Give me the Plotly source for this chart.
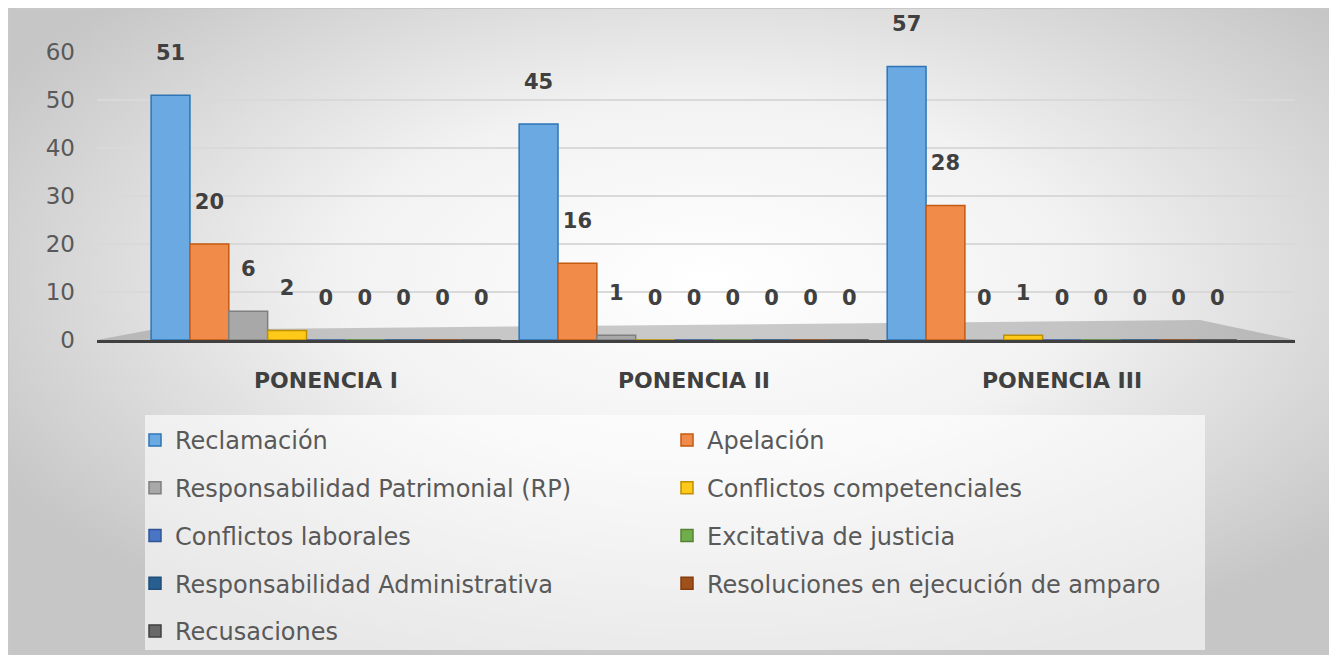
import base64
import plotly.graph_objects as go

categories = ["PONENCIA I", "PONENCIA II", "PONENCIA III"]
series_names = [
    "Reclamación",
    "Apelación",
    "Responsabilidad Patrimonial (RP)",
    "Conflictos competenciales",
    "Conflictos laborales",
    "Excitativa de justicia",
    "Responsabilidad Administrativa",
    "Resoluciones en ejecución de amparo",
    "Recusaciones",
]
reclamacion = [51, 45, 57]
apelacion = [20, 16, 28]
resp_patrimonial = [6, 1, 0]
conf_competenciales = [2, 0, 1]
conf_laborales = [0, 0, 0]
excitativa = [0, 0, 0]
resp_administrativa = [0, 0, 0]
resoluciones_amparo = [0, 0, 0]
recusaciones = [0, 0, 0]
y_ticks = [0, 10, 20, 30, 40, 50, 60]

values = [reclamacion, apelacion, resp_patrimonial, conf_competenciales,
          conf_laborales, excitativa, resp_administrativa,
          resoluciones_amparo, recusaciones]
fills = ["#6aa9e2", "#f08b4a", "#a8a8a8", "#ffc91a", "#4a74c4",
         "#72ad4c", "#275f91", "#a0501a", "#686868"]
lines = ["#2e75b6", "#c55a11", "#7f7f7f", "#bf9000", "#2f5597",
         "#548235", "#1f4e79", "#843c0c", "#404040"]

FONT = "DejaVu Sans"

# figure box (page adds 8px body margin)
W, H = 1322, 647
L, R, T, B = 89, 1287, 44, 332
pw, ph = R - L, B - T


def px(xp):
    return (xp - L) / pw


def py(yp):
    return (B - yp) / ph


fig = go.Figure()
for i, (name, vals, fc, lc) in enumerate(zip(series_names, values, fills, lines)):
    fig.add_trace(go.Bar(
        name=name, x=categories, y=vals,
        marker=dict(color=fc, line=dict(color=lc, width=1.5)),
        text=[f"{v}<br>\u00a0" for v in vals], textposition="outside",
        textfont=dict(family=FONT, size=21, color="#404040", weight="bold"),
        constraintext="none", cliponaxis=False,
        legendgroup=f"g{i}",
        legend="legend" if i % 2 == 0 else "legend2",
    ))

svg = (
    '<svg xmlns="http://www.w3.org/2000/svg" width="400" height="200" preserveAspectRatio="none">'
    '<defs><radialGradient id="g" cx="0.53" cy="0.42" r="0.62">'
    '<stop offset="0" stop-color="#ffffff"/>'
    '<stop offset="0.45" stop-color="#f2f2f2"/>'
    '<stop offset="1" stop-color="#c6c6c6"/>'
    '</radialGradient></defs>'
    '<rect width="400" height="200" fill="url(#g)"/></svg>'
)
src = "data:image/svg+xml;base64," + base64.b64encode(svg.encode()).decode()

floor_path = "M {:.4f},{:.4f} L {:.4f},{:.4f} L {:.4f},{:.4f} L {:.4f},{:.4f} Z".format(
    px(L), py(B), px(R), py(B), px(1192), py(312), px(142), py(322))

legend_common = dict(
    orientation="v", xanchor="left", yanchor="top",
    font=dict(family=FONT, size=24, color="#595959"),
    bgcolor="rgba(0,0,0,0)", traceorder="grouped", tracegroupgap=13.5,
    itemclick=False, itemdoubleclick=False,
)

fig.update_layout(
    width=W, height=H,
    margin=dict(l=L, r=W - R, t=T, b=H - B, autoexpand=False),
    paper_bgcolor="white", plot_bgcolor="rgba(0,0,0,0)",
    barmode="group", bargap=0.05, bargroupgap=0.0,
    font=dict(family=FONT, color="#595959"),
    images=[dict(source=src, xref="paper", yref="paper",
                 x=px(0), y=py(0), sizex=W / pw, sizey=H / ph,
                 xanchor="left", yanchor="top", sizing="stretch", layer="below")],
    shapes=[
        dict(type="path", xref="paper", yref="paper", path=floor_path,
             fillcolor="rgba(140,140,140,0.45)", line=dict(width=0), layer="below"),
        dict(type="rect", xref="paper", yref="paper",
             x0=px(137), x1=px(1197), y0=py(642), y1=py(407),
             fillcolor="rgba(255,255,255,0.6)", line=dict(width=0), layer="below"),
        dict(type="rect", xref="paper", yref="paper",
             x0=px(0.5), x1=px(W - 0.5), y0=py(H - 0.5), y1=py(0.5),
             line=dict(color="#c8c8c8", width=1), layer="below"),
    ],
    xaxis=dict(
        range=[-0.622, 2.633],
        showgrid=False, showline=True, linecolor="#404040", linewidth=3,
        tickfont=dict(family=FONT, size=22, color="#404040", weight="bold"),
        ticks="", ticklabelstandoff=19,
    ),
    yaxis=dict(
        range=[0, 60], tickvals=y_ticks, showgrid=True, gridcolor="#d9d9d9",
        gridwidth=2, zeroline=False, showline=False,
        tickfont=dict(family=FONT, size=23, color="#595959"),
        ticklabelstandoff=21,
    ),
    legend=dict(x=px(127), y=py(410), **legend_common),
    legend2=dict(x=px(659), y=py(410), **legend_common),
    showlegend=True,
)

fig.write_html("out.html")
